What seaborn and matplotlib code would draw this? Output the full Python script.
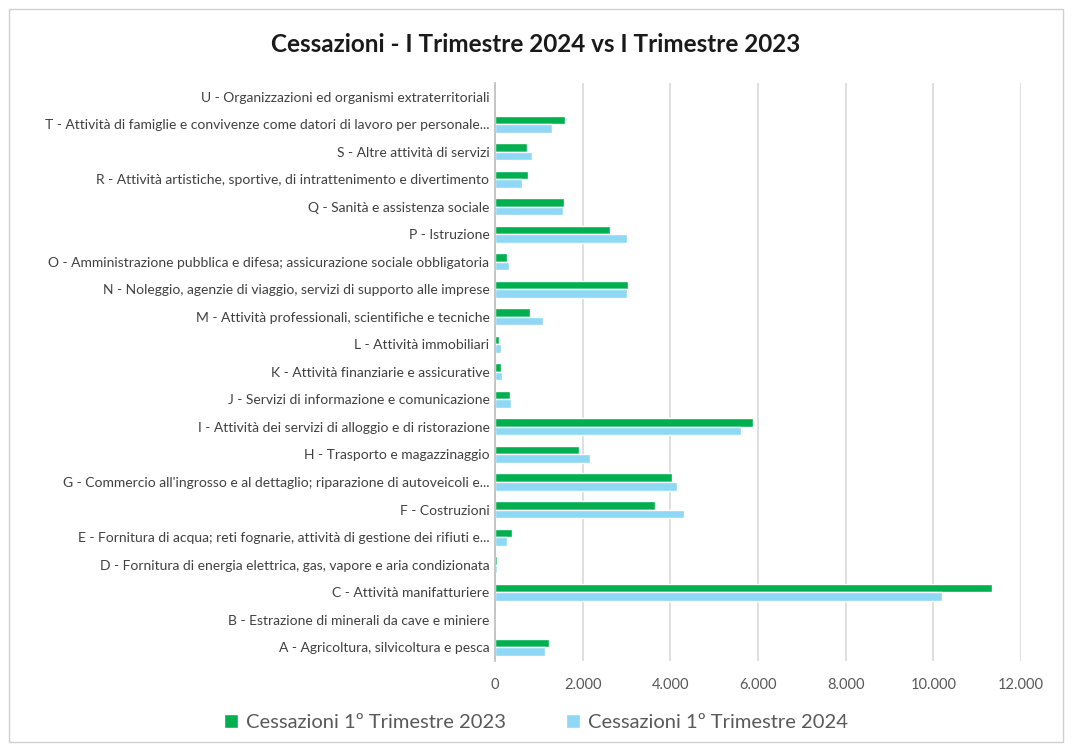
import matplotlib.pyplot as plt
import seaborn as sns
import pandas as pd
from matplotlib.ticker import FuncFormatter
from matplotlib.patches import Rectangle

sns.set_theme(style="white")
plt.rcParams['font.family'] = ['Lato', 'DejaVu Sans']

# Categories listed from top (U) to bottom (A)
categories = [
    "U - Organizzazioni ed organismi extraterritoriali",
    "T - Attività di famiglie e convivenze come datori di lavoro per personale...",
    "S - Altre attività di servizi",
    "R - Attività artistiche, sportive, di intrattenimento e divertimento",
    "Q - Sanità e assistenza sociale",
    "P - Istruzione",
    "O - Amministrazione pubblica e difesa; assicurazione sociale obbligatoria",
    "N - Noleggio, agenzie di viaggio, servizi di supporto alle imprese",
    "M - Attività professionali, scientifiche e tecniche",
    "L - Attività immobiliari",
    "K - Attività finanziarie e assicurative",
    "J - Servizi di informazione e comunicazione",
    "I - Attività dei servizi di alloggio e di ristorazione",
    "H - Trasporto e magazzinaggio",
    "G - Commercio all'ingrosso e al dettaglio; riparazione di autoveicoli e...",
    "F - Costruzioni",
    "E - Fornitura di acqua; reti fognarie, attività di gestione dei rifiuti e...",
    "D - Fornitura di energia elettrica, gas, vapore e aria condizionata",
    "C - Attività manifatturiere",
    "B - Estrazione di minerali da cave e miniere",
    "A - Agricoltura, silvicoltura e pesca",
]
cess_2023 = [0, 1600, 720, 745, 1575, 2625, 265, 3025, 805, 100, 135, 335,
             5890, 1925, 4030, 3640, 395, 38, 11350, 0, 1230]
cess_2024 = [0, 1290, 850, 610, 1545, 3005, 310, 3005, 1100, 145, 165, 375,
             5605, 2175, 4160, 4310, 265, 52, 10200, 0, 1140]
series = ["Cessazioni 1º Trimestre 2023", "Cessazioni 1º Trimestre 2024"]

df = pd.DataFrame({
    "Settore": categories * 2,
    "Valore": cess_2023 + cess_2024,
    "Serie": [series[0]] * len(categories) + [series[1]] * len(categories),
})

fig = plt.figure(figsize=(10.72, 7.46), dpi=100)
ax = fig.add_axes([0.4618, 0.114, 0.4906, 0.775])

sns.barplot(data=df, y="Settore", x="Valore", hue="Serie", order=categories,
            hue_order=series, palette=["#00B050", "#8FD8F5"], width=0.62,
            orient="h", ax=ax, saturation=1)

ax.set_xlim(0, 12000)
ax.set_xticks(range(0, 12001, 2000))
ax.xaxis.set_major_formatter(FuncFormatter(lambda v, p: f"{int(v):,}".replace(",", ".")))
ax.grid(axis="x", color="#d9d9d9", linewidth=1.2)
ax.set_axisbelow(True)
ax.set_xlabel("")
ax.set_ylabel("")
ax.tick_params(axis="y", labelsize=10, colors="#404040", length=0, pad=4)
ax.tick_params(axis="x", labelsize=10.5, colors="#595959", length=0, pad=12)
for s in ["top", "right", "bottom"]:
    ax.spines[s].set_visible(False)
ax.spines["left"].set_color("#bfbfbf")

fig.text(0.5, 0.94, "Cessazioni - I Trimestre 2024 vs I Trimestre 2023",
         ha="center", va="center", fontsize=17.5, fontweight="bold", color="#1a1a1a")

handles, labels = ax.get_legend_handles_labels()
ax.get_legend().remove()
fig.legend(handles, labels, loc="center", bbox_to_anchor=(0.5, 0.032), ncol=2,
           frameon=False, fontsize=14.5, handlelength=0.7, handleheight=0.7,
           columnspacing=3, handletextpad=0.4, labelcolor="#595959")

fig.patches.append(Rectangle((0.008, 0.006), 0.984, 0.982, transform=fig.transFigure,
                             fill=False, edgecolor="#d0d0d0", linewidth=1))

fig.savefig("out.png", dpi=100)
